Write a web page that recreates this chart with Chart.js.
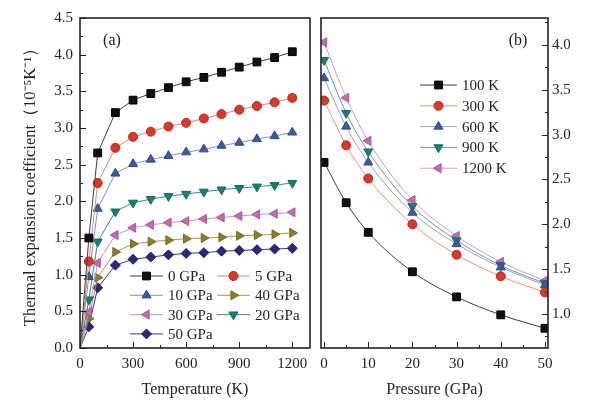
<!DOCTYPE html>
<html>
<head>
<meta charset="utf-8">
<script src="https://cdn.jsdelivr.net/npm/chart.js@4.4.1/dist/chart.umd.min.js"></script>
<style>
    html, body { margin: 0; padding: 0; background: #ffffff; }
    #wrap { position: relative; width: 600px; height: 420px; }
    #wrap canvas { position: absolute; left: 0; top: 0; }
</style>
</head>
<body>
<div id="wrap">
    <canvas id="tempChart" width="600" height="420"></canvas>
    <canvas id="pressChart" width="600" height="420"></canvas>
</div>
<script>

/* ==========================================================
   DATA
========================================================== */

// (a) coefficient vs temperature, one list per pressure
const temperatures = [0, 50, 100, 200, 300, 400, 500, 600, 700, 800, 900, 1000, 1100, 1200];
const pressureLabels = ["0 GPa", "5 GPa", "10 GPa", "20 GPa", "30 GPa", "40 GPa", "50 GPa"];

const coef0GPa  = [0, 1.50, 2.66, 3.21, 3.38, 3.47, 3.55, 3.63, 3.69, 3.76, 3.83, 3.90, 3.96, 4.04];
const coef5GPa  = [0, 1.18, 2.25, 2.73, 2.88, 2.95, 3.02, 3.07, 3.13, 3.19, 3.25, 3.30, 3.35, 3.41];
const coef10GPa = [0, 0.97, 1.90, 2.38, 2.51, 2.57, 2.62, 2.67, 2.71, 2.76, 2.80, 2.85, 2.89, 2.94];
const coef20GPa = [0, 0.66, 1.45, 1.86, 1.98, 2.03, 2.07, 2.10, 2.13, 2.16, 2.18, 2.20, 2.22, 2.25];
const coef30GPa = [0, 0.49, 1.16, 1.54, 1.64, 1.68, 1.71, 1.73, 1.76, 1.78, 1.80, 1.82, 1.83, 1.85];
const coef40GPa = [0, 0.40, 0.96, 1.31, 1.42, 1.45, 1.47, 1.49, 1.50, 1.51, 1.53, 1.54, 1.55, 1.57];
const coef50GPa = [0, 0.29, 0.82, 1.13, 1.21, 1.24, 1.27, 1.29, 1.30, 1.32, 1.33, 1.34, 1.35, 1.36];

// (b) coefficient vs pressure, one list per temperature
const pressures = [0, 5, 10, 20, 30, 40, 50];
const temperatureLabels = ["100 K", "300 K", "600 K", "900 K", "1200 K"];

const coef100K  = [2.69, 2.24, 1.91, 1.47, 1.19, 0.99, 0.84];
const coef300K  = [3.38, 2.88, 2.51, 2.00, 1.66, 1.42, 1.24];
const coef600K  = [3.63, 3.09, 2.69, 2.13, 1.78, 1.52, 1.32];
const coef900K  = [3.83, 3.24, 2.81, 2.20, 1.82, 1.54, 1.34];
const coef1200K = [4.03, 3.41, 2.93, 2.27, 1.87, 1.58, 1.37];

// tick labels
const temperatureTicks = [0, 300, 600, 900, 1200];
const coefTicksLeft = [0, 0.5, 1.0, 1.5, 2.0, 2.5, 3.0, 3.5, 4.0, 4.5];
const pressureTicks = [0, 10, 20, 30, 40, 50];
const coefTicksRight = [1.0, 1.5, 2.0, 2.5, 3.0, 3.5, 4.0];

/* ==========================================================
   STYLES
========================================================== */

const FONT = "'Liberation Serif', 'Times New Roman', serif";
const INK = "#222222";

const pressureStyles = [
    { pointStyle: "rect",     rotation: 0,   radius: 5.5, fill: "#111111", edge: "#000000", line: "#3c3c3c" },
    { pointStyle: "circle",   rotation: 0,   radius: 4.5, fill: "#d8392b", edge: "#a82a20", line: "#e8846e" },
    { pointStyle: "triangle", rotation: 0,   radius: 5.2, fill: "#3d5b9b", edge: "#2e4a85", line: "#8391b8" },
    { pointStyle: "triangle", rotation: 180, radius: 5.2, fill: "#1d7d72", edge: "#126a60", line: "#358a80" },
    { pointStyle: "triangle", rotation: 270, radius: 5.2, fill: "#c46bb0", edge: "#a2568f", line: "#cc8ec3" },
    { pointStyle: "triangle", rotation: 90,  radius: 5.2, fill: "#8e7d2f", edge: "#75661f", line: "#a99754" },
    { pointStyle: "rectRot",  rotation: 0,   radius: 5.0, fill: "#272b73", edge: "#1b1f5e", line: "#343a85" }
];

const temperatureStyles = [
    pressureStyles[0],
    pressureStyles[1],
    pressureStyles[2],
    pressureStyles[3],
    pressureStyles[4]
];

/* ==========================================================
   PLUGINS
========================================================== */

// frame + inward major / minor ticks
const frameTicksPlugin = {

    id: "frameTicks",

    afterDatasetsDraw(chart, args, opts) {

        const { ctx, chartArea: { left, right, top, bottom } } = chart;
        const xs = chart.scales.x;
        const ys = chart.scales.y;

        const minorValues = scale => {
            const vals = scale.ticks.map(t => t.value);
            const step = vals[1] - vals[0];
            const out = [];
            for (let v = vals[0] - step / 2; v <= scale.max + 1e-9; v += step) {
                if (v >= scale.min) out.push(v);
            }
            return out;
        };

        ctx.save();
        ctx.strokeStyle = INK;
        ctx.lineWidth = 1;

        // bottom axis ticks, pointing up
        const drawX = (v, len) => {
            const px = Math.round(xs.getPixelForValue(v)) + 0.5;
            ctx.beginPath();
            ctx.moveTo(px, bottom);
            ctx.lineTo(px, bottom - len);
            ctx.stroke();
        };
        xs.ticks.forEach(t => drawX(t.value, 6));
        minorValues(xs).forEach(v => drawX(v, 3));

        // side axis ticks, pointing into the plot
        const edge = opts.ySide === "right" ? right : left;
        const dir = opts.ySide === "right" ? -1 : 1;
        const drawY = (v, len) => {
            const py = Math.round(ys.getPixelForValue(v)) + 0.5;
            ctx.beginPath();
            ctx.moveTo(edge, py);
            ctx.lineTo(edge + dir * len, py);
            ctx.stroke();
        };
        ys.ticks.forEach(t => drawY(t.value, 6));
        minorValues(ys).forEach(v => drawY(v, 3));

        // frame
        ctx.lineWidth = 1.6;
        ctx.strokeRect(left, top, right - left, bottom - top);

        // panel tag
        ctx.fillStyle = INK;
        ctx.font = "16px " + FONT;
        ctx.textAlign = "center";
        ctx.textBaseline = "middle";
        const tagX = opts.ySide === "right" ? right - 30 : left + 32;
        ctx.fillText(opts.tag, tagX, top + 23);

        ctx.restore();

    }

};

// hand drawn legend inside the plot
const boxLegendPlugin = {

    id: "boxLegend",

    afterDatasetsDraw(chart, args, opts) {

        const { ctx, chartArea: { left, top } } = chart;

        ctx.save();
        ctx.font = "15px " + FONT;
        ctx.textAlign = "left";
        ctx.textBaseline = "middle";

        opts.order.forEach((dsIndex, i) => {

            const ds = chart.data.datasets[dsIndex];
            const col = i % opts.columns;
            const row = Math.floor(i / opts.columns);

            const x = left + opts.x + col * opts.colWidth;
            const y = top + opts.y + row * opts.rowHeight;

            ctx.strokeStyle = ds.borderColor;
            ctx.lineWidth = 1;
            ctx.beginPath();
            ctx.moveTo(x, y);
            ctx.lineTo(x + opts.lineLen, y);
            ctx.stroke();

            ctx.fillStyle = ds.pointBackgroundColor;
            ctx.strokeStyle = ds.pointBorderColor;
            Chart.helpers.drawPoint(ctx, {
                pointStyle: ds.pointStyle,
                rotation: ds.pointRotation,
                radius: ds.legendRadius,
                borderWidth: 1
            }, x + opts.lineLen / 2, y);

            ctx.fillStyle = INK;
            ctx.fillText(ds.label, x + opts.lineLen + 5, y + 1);

        });

        ctx.restore();

    }

};

Chart.register(frameTicksPlugin, boxLegendPlugin);

/* ==========================================================
   BUILDERS
========================================================== */

function makeDataset(label, xs, ys, style, extra) {

    return Object.assign({
        label: label,
        data: xs.map((x, i) => ({ x: x, y: ys[i] })),
        borderColor: style.line,
        borderWidth: 1,
        pointStyle: style.pointStyle,
        pointRotation: style.rotation,
        pointRadius: style.radius,
        legendRadius: style.radius,
        pointBackgroundColor: style.fill,
        pointBorderColor: style.edge,
        pointBorderWidth: 1,
        tension: 0
    }, extra || {});

}

function fixedTicks(values) {
    return scale => {
        scale.ticks = values.map(v => ({ value: v }));
    };
}

function baseAxis(extra) {

    return Object.assign({
        type: "linear",
        grid: { display: false, drawTicks: false },
        border: { display: false },
        ticks: {
            color: INK,
            font: { family: FONT, size: 15 }
        },
        title: {
            display: true,
            color: INK,
            font: { family: FONT, size: 16 }
        }
    }, extra);

}

/* ==========================================================
   (a) TEMPERATURE PANEL
========================================================== */

const tempSeries = [coef0GPa, coef5GPa, coef10GPa, coef20GPa, coef30GPa, coef40GPa, coef50GPa];

new Chart(document.getElementById("tempChart"), {

    type: "line",

    data: {
        datasets: tempSeries.map((ys, i) => makeDataset(
            pressureLabels[i], temperatures, ys, pressureStyles[i],
            { pointRadius: c => (temperatures[c.dataIndex] === 0 ? 0 : pressureStyles[i].radius) }
        ))
    },

    options: {
        responsive: false,
        animation: false,
        events: [],
        layout: { padding: { left: 0, right: 290, top: 18, bottom: 0 } },
        scales: {
            x: baseAxis({
                min: 0,
                max: 1300,
                afterBuildTicks: fixedTicks(temperatureTicks),
                afterFit: s => { s.height = 72; },
                ticks: {
                    color: INK,
                    padding: 7,
                    font: { family: FONT, size: 15 },
                    callback: v => String(v)
                },
                title: {
                    display: true,
                    text: "Temperature (K)",
                    color: INK,
                    padding: { top: 0, bottom: 21 },
                    font: { family: FONT, size: 16 }
                }
            }),
            y: baseAxis({
                min: 0,
                max: 4.5,
                afterBuildTicks: fixedTicks(coefTicksLeft),
                afterFit: s => { s.width = 80; },
                ticks: {
                    color: INK,
                    padding: 7,
                    font: { family: FONT, size: 15 },
                    callback: v => Number(v).toFixed(1)
                },
                title: {
                    display: true,
                    text: "Thermal expansion coefficient（10⁻⁵K⁻¹）",
                    color: INK,
                    padding: { top: 21, bottom: 0 },
                    font: { family: FONT, size: 16.5 }
                }
            })
        },
        plugins: {
            legend: { display: false },
            tooltip: { enabled: false },
            frameTicks: { ySide: "left", tag: "(a)" },
            boxLegend: {
                order: [0, 1, 2, 5, 4, 3, 6],
                columns: 2,
                x: 50,
                y: 258,
                colWidth: 87,
                rowHeight: 19.3,
                lineLen: 33
            }
        }
    }

});

/* ==========================================================
   (b) PRESSURE PANEL
========================================================== */

const pressSeries = [coef100K, coef300K, coef600K, coef900K, coef1200K];
const pressLineColors = ["#3c3c3c", "#e99272", "#93a2c4", "#5d9e98", "#d49bcb"];

new Chart(document.getElementById("pressChart"), {

    type: "line",

    data: {
        datasets: pressSeries.map((ys, i) => makeDataset(
            temperatureLabels[i], pressures, ys,
            Object.assign({}, temperatureStyles[i], { line: pressLineColors[i] }),
            { cubicInterpolationMode: "monotone" }
        ))
    },

    options: {
        responsive: false,
        animation: false,
        events: [],
        layout: { padding: { left: 321, right: 0, top: 18, bottom: 0 } },
        scales: {
            x: baseAxis({
                min: -0.7,
                max: 50.7,
                afterBuildTicks: fixedTicks(pressureTicks),
                afterFit: s => { s.height = 72; },
                ticks: {
                    color: INK,
                    padding: 7,
                    font: { family: FONT, size: 15 },
                    callback: v => String(v)
                },
                title: {
                    display: true,
                    text: "Pressure (GPa)",
                    color: INK,
                    padding: { top: 0, bottom: 21 },
                    font: { family: FONT, size: 16 }
                }
            }),
            y: baseAxis({
                position: "right",
                min: 0.62,
                max: 4.3,
                afterBuildTicks: fixedTicks(coefTicksRight),
                afterFit: s => { s.width = 52; },
                ticks: {
                    color: INK,
                    padding: 4,
                    font: { family: FONT, size: 15 },
                    callback: v => Number(v).toFixed(1)
                },
                title: { display: false }
            })
        },
        plugins: {
            legend: { display: false },
            tooltip: { enabled: false },
            frameTicks: { ySide: "right", tag: "(b)" },
            boxLegend: {
                order: [0, 1, 2, 3, 4],
                columns: 1,
                x: 99,
                y: 67,
                colWidth: 0,
                rowHeight: 20.8,
                lineLen: 37
            }
        }
    }

});

</script>
</body>
</html>
